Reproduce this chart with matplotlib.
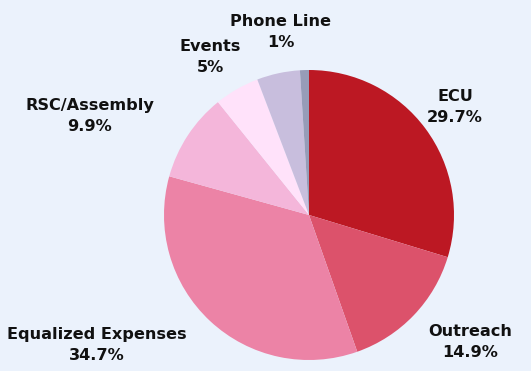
import matplotlib.pyplot as plt

# budget shares (%), clockwise from 12 o'clock
categories = ["ECU", "Outreach", "Equalized Expenses", "RSC/Assembly",
              "Events", "", "Phone Line"]
shares = [29.7, 14.9, 34.7, 9.9, 5.0, 4.8, 1.0]
colors = ["#bc1823", "#dc526b", "#ec83a6", "#f4b6da",
          "#ffe2fa", "#c8bedd", "#979cb8"]

# label centres in pixel coords (x, y from top)
label_pos = [(455, 107), (470, 342), (97, 345), (90, 116),
             (210, 57), None, (281, 32)]

W, H = 531, 371
bg = "#ebf2fc"
fig = plt.figure(figsize=(W / 100, H / 100), dpi=100)
fig.patch.set_facecolor(bg)
ax = fig.add_axes([0, 0, 1, 1])
ax.set_facecolor(bg)

wedges, _ = ax.pie(shares, colors=colors, startangle=90, counterclock=False,
                   center=(309, H - 215), radius=145,
                   wedgeprops=dict(linewidth=0))

for name, val, pos in zip(categories, shares, label_pos):
    if pos is None or not name:
        continue
    txt = f"{name}\n{val:g}%"
    ax.text(pos[0], H - pos[1], txt, ha="center", va="center",
            fontsize=11.6, fontweight="bold", family="DejaVu Sans",
            color="#111111", linespacing=1.5)

ax.set_xlim(0, W)
ax.set_ylim(0, H)
ax.set_aspect("equal")
ax.axis("off")

fig.savefig("out.png", dpi=100, facecolor=bg)
